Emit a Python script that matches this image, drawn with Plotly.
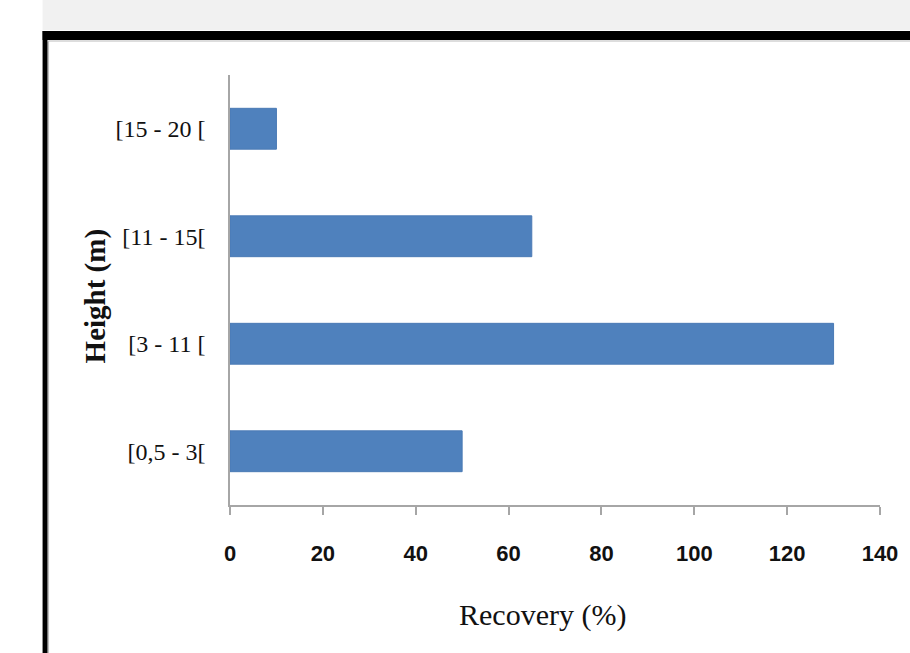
import plotly.graph_objects as go

categories = ["[0,5 - 3[", "[3 - 11 [", "[11 - 15[", "[15 - 20 ["]
recovery = [50, 130, 65, 10]
x_ticks = [0, 20, 40, 60, 80, 100, 120, 140]

W, H = 910, 653
L, R, T, B = 230, 28, 75, 148
pw, ph = W - L - R, H - T - B

def px(x):
    return (x - L) / pw

def py(y):
    return (H - B - y) / ph

fig = go.Figure()
fig.add_trace(go.Bar(
    y=categories, x=recovery, orientation="h",
    marker=dict(color="#4F81BD", line=dict(color="#4A7AB5", width=1)),
    showlegend=False,
))

shapes = [
    dict(type="rect", xref="paper", yref="paper", x0=px(42), x1=px(915), y0=py(30), y1=py(-5),
         fillcolor="#F1F1F1", line=dict(width=0), layer="below"),
    dict(type="rect", xref="paper", yref="paper", x0=px(42), x1=px(915), y0=py(40), y1=py(31),
         fillcolor="black", line=dict(width=0)),
    dict(type="rect", xref="paper", yref="paper", x0=px(42), x1=px(47), y0=py(660), y1=py(31),
         fillcolor="black", line=dict(width=0)),
    dict(type="line", xref="paper", yref="paper", x0=px(47), x1=px(915), y0=py(41), y1=py(41),
         line=dict(color="#BBBBBB", width=1)),
    dict(type="line", xref="paper", yref="paper", x0=px(48), x1=px(48), y0=py(41), y1=py(660),
         line=dict(color="#BBBBBB", width=1)),
]

annotations = [
    dict(text="Recovery (%)", xref="paper", yref="paper", x=px(543), y=py(615),
         xanchor="center", yanchor="middle", showarrow=False,
         font=dict(family="Liberation Serif, Times New Roman", size=30, color="#111111")),
    dict(text="<b>Height (m)</b>", xref="paper", yref="paper", x=px(95), y=py(296),
         xanchor="center", yanchor="middle", showarrow=False, textangle=-90,
         font=dict(family="Liberation Serif, Times New Roman", size=29, color="#111111")),
]

fig.update_layout(
    width=W, height=H,
    margin=dict(l=L, r=R, t=T, b=B),
    paper_bgcolor="white", plot_bgcolor="white",
    bargap=0.62,
    shapes=shapes,
    annotations=annotations,
    xaxis=dict(
        range=[0, 140], tickvals=x_ticks, ticktext=[str(v) for v in x_ticks],
        showgrid=False, zeroline=False,
        showline=True, linecolor="#A6A6A6", linewidth=1.5,
        ticks="outside", ticklen=8, tickcolor="#A6A6A6", tickwidth=1.5,
        ticklabelstandoff=20,
        tickfont=dict(family="Liberation Sans Narrow, Liberation Sans, Arial", size=22, color="#111111", weight="bold"),
    ),
    yaxis=dict(
        categoryorder="array", categoryarray=categories,
        showgrid=False, zeroline=False,
        showline=True, linecolor="#A6A6A6", linewidth=1.5,
        ticks="", ticklabelstandoff=18,
        tickfont=dict(family="Liberation Serif, Times New Roman", size=24, color="#111111"),
    ),
)

fig.write_html("out.html")
